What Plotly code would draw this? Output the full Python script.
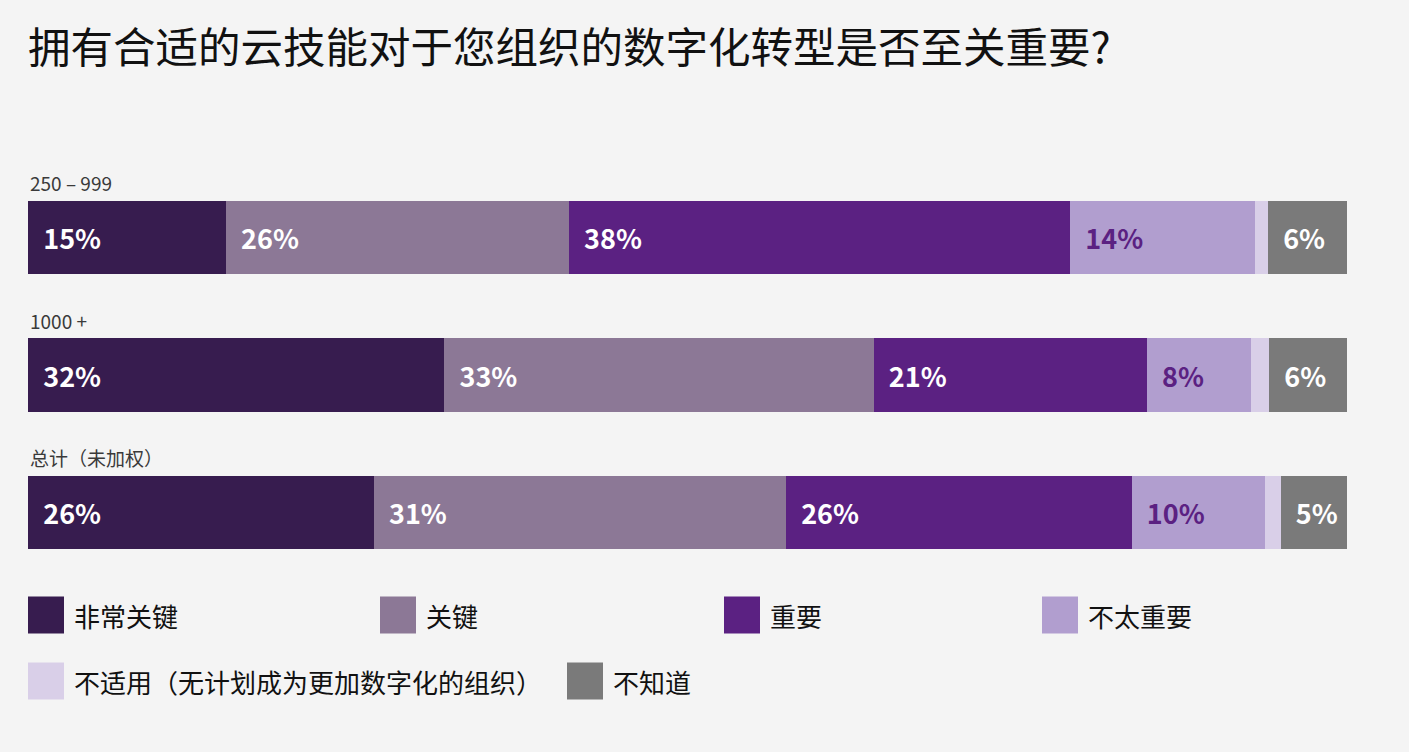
import plotly.graph_objects as go

# ---- data ----
title_text = "拥有合适的云技能对于您组织的数字化转型是否至关重要?"
groups = ["250 – 999", "1000 +", "总计（未加权）"]
series_names = ["非常关键", "关键", "重要", "不太重要", "不适用（无计划成为更加数字化的组织）", "不知道"]
very_critical = [15, 32, 26]
critical = [26, 33, 31]
important = [38, 21, 26]
less_important = [14, 8, 10]
not_applicable = [1.0, 1.4, 1.2]
dont_know = [6, 6, 5]
show_label = [True, True, True, True, False, True]

series_values = [very_critical, critical, important, less_important, not_applicable, dont_know]

# ---- styles ----
colors = ["#371c4f", "#8c7896", "#5b2182", "#b19ecf", "#d9cfe8", "#7a7a7a"]
label_colors = ["#ffffff", "#ffffff", "#ffffff", "#5b2182", "#ffffff", "#ffffff"]
BG = "#f4f4f4"
CJK = "Noto Sans CJK SC"

W, H = 1409, 752
ML, MR, MT, MB = 28, 62, 169, 169
PW, PH = W - ML - MR, H - MT - MB


def px_x(px):
    return (px - ML) / PW


def px_y(py):
    return (H - MB - py) / PH


fig = go.Figure()
pad = "\u00a0\u00a0"
for name, vals, col, lcol, show in zip(series_names, series_values, colors, label_colors, show_label):
    fig.add_trace(go.Bar(
        y=groups,
        x=vals,
        orientation="h",
        name=name,
        marker=dict(color=col, line=dict(width=0)),
        text=[(pad + f"{v:g}%") if show else "" for v in vals],
        textposition="inside",
        insidetextanchor="start",
        textfont=dict(family=CJK, size=27, color=lcol, weight="bold"),
        hoverinfo="skip",
        showlegend=False,
    ))

annotations = []
for g in groups:
    annotations.append(dict(
        x=0, xref="paper", y=g, yref="y", xanchor="left", yanchor="middle",
        yshift=55, text=g, showarrow=False,
        font=dict(family=CJK, size=19, color="#3a3a3a"),
    ))

# manual legend
legend_pos = [(28, 615), (380, 615), (724, 615), (1042, 615), (28, 681), (567, 681)]
shapes = []
for name, col, (lx, ly) in zip(series_names, colors, legend_pos):
    shapes.append(dict(
        type="rect", xref="paper", yref="paper",
        x0=px_x(lx), x1=px_x(lx + 36), y0=px_y(ly - 18.5), y1=px_y(ly + 18.5),
        fillcolor=col, line=dict(width=0), layer="above",
    ))
    annotations.append(dict(
        x=px_x(lx + 44), xref="paper", y=px_y(ly), yref="paper",
        xanchor="left", yanchor="middle", text=name, showarrow=False,
        font=dict(family=CJK, size=26, color="#111111"),
    ))

fig.update_layout(
    width=W, height=H,
    margin=dict(l=ML, r=MR, t=MT, b=MB),
    barmode="stack",
    barnorm="percent",
    bargap=0.467,
    paper_bgcolor=BG, plot_bgcolor=BG,
    title=dict(text=title_text, x=28 / W, xref="container", xanchor="left",
               y=1 - 48 / H, yref="container", yanchor="middle",
               font=dict(family=CJK, size=42.5, color="#111111")),
    xaxis=dict(range=[0, 100], showgrid=False, zeroline=False, showticklabels=False,
               showline=False, fixedrange=True),
    yaxis=dict(categoryorder="array", categoryarray=groups, autorange="reversed",
               showgrid=False, zeroline=False, showticklabels=False, showline=False),
    uniformtext=dict(minsize=27, mode="show"),
    annotations=annotations,
    shapes=shapes,
    showlegend=False,
)

fig.write_html(
    "out.html",
    config={"displayModeBar": False},
    post_script="document.body.style.margin='0px';document.body.style.overflow='hidden';",
)
